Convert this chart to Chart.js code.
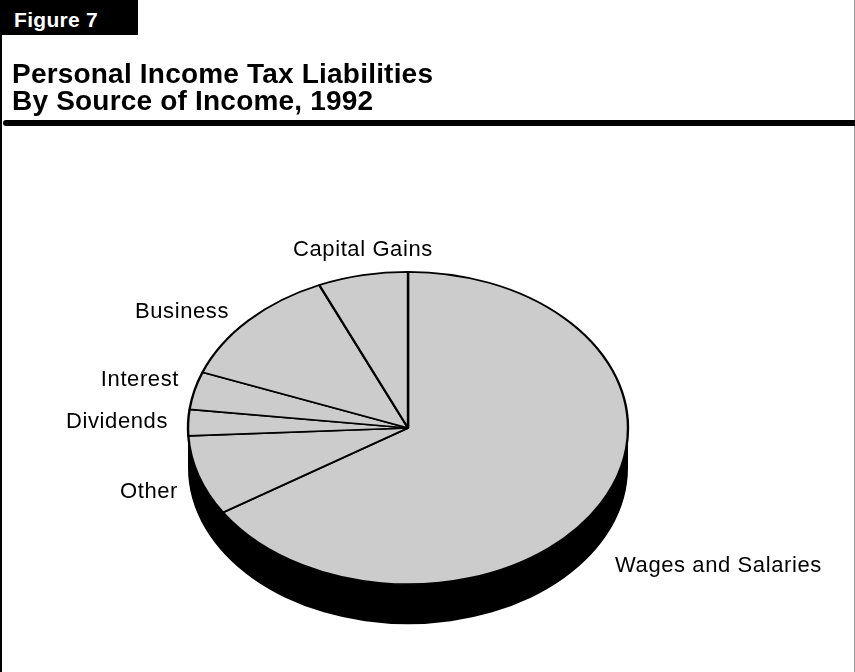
<!DOCTYPE html>
<html>
<head>
<meta charset="utf-8">
<title>Personal Income Tax Liabilities By Source of Income, 1992</title>
<script src="https://cdn.jsdelivr.net/npm/chart.js@4.4.0/dist/chart.umd.min.js"></script>
<style>
  html, body { margin: 0; padding: 0; background: #fff; }
  #page {
    position: relative;
    width: 855px;
    height: 672px;
    overflow: hidden;
    font-family: "Liberation Sans", Arial, sans-serif;
  }
  #chart { position: absolute; left: 0; top: 0; }
  #fig-tag {
    position: absolute; left: 0; top: 0;
    width: 138px; height: 35px;
    box-sizing: border-box; padding-left: 14px;
    background: #000; color: #fff;
    font-weight: bold; font-size: 21px; line-height: 39px;
    letter-spacing: 0.3px; overflow: hidden;
  }
  #edge-left { position: absolute; left: 0; top: 0; width: 2px; height: 672px; background: #000; }
  #edge-right { position: absolute; right: 0; top: 0; width: 1px; height: 672px; background: #999; }
  #title {
    position: absolute; left: 12px; top: 60px;
    font-weight: bold; font-size: 28px; line-height: 27px;
    letter-spacing: 0.2px; color: #000;
  }
  #rule {
    position: absolute; left: 3px; top: 120px;
    width: 852px; height: 6px; background: #000;
    border-radius: 3px 0 0 3px;
  }
</style>
</head>
<body>
<div id="page">
  <canvas id="chart" width="855" height="672"></canvas>
  <div id="edge-left"></div>
  <div id="edge-right"></div>
  <div id="fig-tag">Figure 7</div>
  <div id="title">Personal Income Tax Liabilities<br>By Source of Income, 1992</div>
  <div id="rule"></div>
</div>

<script>
  // Share of 1992 personal income tax liabilities, percent.
  // Listed clockwise from 12 o'clock.
  const SOURCES = ['Wages and Salaries', 'Other', 'Dividends', 'Interest', 'Business', 'Capital Gains'];
  const SHARES = [65.9, 8.3, 2.7, 3.9, 12.6, 6.6];

  // Where each source name is written (baseline anchor)
  const LABEL_POS = [
    { x: 615, y: 572, align: 'left' },
    { x: 178, y: 498, align: 'right' },
    { x: 168, y: 428, align: 'right' },
    { x: 179, y: 386, align: 'right' },
    { x: 229, y: 318, align: 'right' },
    { x: 293, y: 256, align: 'left' }
  ];

  const TILT = 0.71;   // vertical squash of the pie face
  const DEPTH = 40;    // thickness of the black edge, px

  /**
   * Draws the black side wall, then squashes the pie face into an ellipse
   */
  const tiltPlugin = {
    id: 'tilt',
    beforeDatasetsDraw(chart) {
      const arc = chart.getDatasetMeta(0).data[0];
      const ctx = chart.ctx;
      ctx.save();
      if (!arc) return;
      const { x, y, outerRadius: r } = arc;
      const ry = r * TILT;

      ctx.beginPath();
      ctx.moveTo(x + r, y);
      ctx.lineTo(x + r, y + DEPTH);
      ctx.ellipse(x, y + DEPTH, r, ry, 0, 0, Math.PI);
      ctx.lineTo(x - r, y);
      ctx.ellipse(x, y, r, ry, 0, Math.PI, 0, true);
      ctx.closePath();
      ctx.fillStyle = '#000';
      ctx.fill();

      ctx.translate(x, y);
      ctx.scale(1, TILT);
      ctx.translate(-x, -y);
    },
    afterDatasetsDraw(chart) {
      chart.ctx.restore();
    }
  };

  /**
   * Writes the source names beside their slices
   */
  const labelPlugin = {
    id: 'sliceLabels',
    afterDraw(chart) {
      const ctx = chart.ctx;
      ctx.save();
      ctx.font = '22px "Liberation Sans", Arial, sans-serif';
      ctx.letterSpacing = '0.6px';
      ctx.fillStyle = '#000';
      ctx.textBaseline = 'alphabetic';
      chart.data.labels.forEach((label, i) => {
        const p = LABEL_POS[i];
        ctx.textAlign = p.align;
        ctx.fillText(label, p.x, p.y);
      });
      ctx.restore();
    }
  };

  new Chart(document.getElementById('chart'), {
    type: 'pie',
    data: {
      labels: SOURCES,
      datasets: [{
        data: SHARES,
        backgroundColor: '#cccccc',
        borderColor: '#000',
        borderWidth: 2.4,
        radius: 220,
        hoverOffset: 0,
        clip: false
      }]
    },
    options: {
      responsive: false,
      devicePixelRatio: 1,
      animation: false,
      events: [],
      layout: { padding: { left: 188, right: 227, top: 208, bottom: 24 } },
      plugins: {
        legend: { display: false },
        tooltip: { enabled: false }
      }
    },
    plugins: [tiltPlugin, labelPlugin]
  });
</script>
</body>
</html>
